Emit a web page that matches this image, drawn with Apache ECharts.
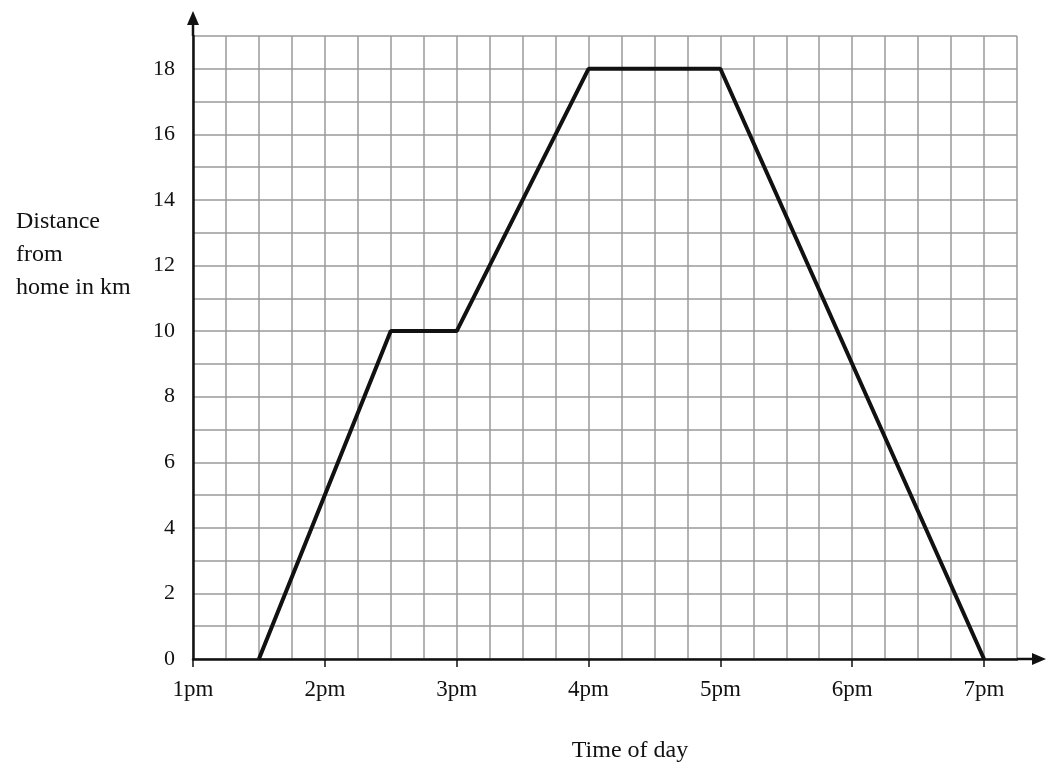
<!DOCTYPE html>
<html><head><meta charset="utf-8">
<script src="https://cdn.jsdelivr.net/npm/echarts@6/dist/echarts.min.js"></script>
<style>html,body{margin:0;padding:0;background:#fff}#c{width:1055px;height:769px}</style>
</head><body><div id="c"></div>
<script>
const times = [13.5, 14.5, 15, 16, 17, 19];
const distances = [0, 10, 10, 18, 18, 0];
const hourTicks = [13, 14, 15, 16, 17, 18, 19];
const hourLabels = ['1pm', '2pm', '3pm', '4pm', '5pm', '6pm', '7pm'];
const yLabels = [0, 2, 4, 6, 8, 10, 12, 14, 16, 18];
const FONT = '"Liberation Serif", "DejaVu Serif", serif';

const chart = echarts.init(document.getElementById('c'));
chart.setOption({
  animation: false,
  backgroundColor: '#fff',
  title: {
    text: 'Distance\nfrom\nhome in km',
    left: 11, top: 200,
    textStyle: { fontFamily: FONT, fontSize: 24, fontWeight: 'normal', color: '#111', lineHeight: 33 }
  },
  grid: { left: 193, top: 36, right: 38, bottom: 110, containLabel: false, outerBoundsMode: 'none' },
  xAxis: [{
    type: 'value', min: 13, max: 19.25, interval: 0.25,
    axisLine: { show: true, lineStyle: { color: '#111', width: 2.5 } },
    axisTick: { show: false },
    axisLabel: { show: false },
    splitLine: { show: true, lineStyle: { color: '#9a9a9a', width: 1.5 } }
  }, {
    type: 'value', min: 13, max: 19.25, position: 'bottom',
    name: 'Time of day', nameLocation: 'middle', nameGap: 80,
    nameTextStyle: { fontFamily: FONT, fontSize: 24, color: '#111', padding: [0, 0, 0, 50] },
    axisLine: { show: false },
    axisTick: { show: true, customValues: hourTicks, length: 8, lineStyle: { color: '#111', width: 1.5 } },
    axisLabel: {
      customValues: hourTicks, margin: 19,
      formatter: v => hourLabels[hourTicks.indexOf(v)] || '',
      fontFamily: FONT, fontSize: 23, color: '#111'
    },
    splitLine: { show: false }
  }],
  yAxis: {
    type: 'value', min: 0, max: 19, interval: 1,
    axisLine: { show: true, lineStyle: { color: '#111', width: 2.5 } },
    axisTick: { show: false },
    axisLabel: {
      customValues: yLabels, margin: 18,
      fontFamily: FONT, fontSize: 22, color: '#111'
    },
    splitLine: { show: true, lineStyle: { color: '#9a9a9a', width: 1.5 } }
  },
  series: [{
    type: 'line',
    xAxisIndex: 0,
    data: times.map((t, i) => [t, distances[i]]),
    symbol: 'none',
    lineStyle: { color: '#111', width: 4 },
    z: 5
  }]
});

// axis arrows extending beyond the grid
const o = chart.convertToPixel({ gridIndex: 0 }, [13, 0]);
const tr = chart.convertToPixel({ gridIndex: 0 }, [19.25, 19]);
chart.setOption({
  graphic: [
    { type: 'line', shape: { x1: tr[0], y1: o[1], x2: tr[0] + 18, y2: o[1] }, style: { stroke: '#111', lineWidth: 2.5 }, z: 10 },
    { type: 'polygon', shape: { points: [[tr[0] + 29, o[1]], [tr[0] + 15, o[1] - 6], [tr[0] + 15, o[1] + 6]] }, style: { fill: '#111' }, z: 10 },
    { type: 'line', shape: { x1: o[0], y1: tr[1], x2: o[0], y2: tr[1] - 13 }, style: { stroke: '#111', lineWidth: 2.5 }, z: 10 },
    { type: 'polygon', shape: { points: [[o[0], tr[1] - 25], [o[0] - 6, tr[1] - 11], [o[0] + 6, tr[1] - 11]] }, style: { fill: '#111' }, z: 10 }
  ]
});
</script>
</body></html>
